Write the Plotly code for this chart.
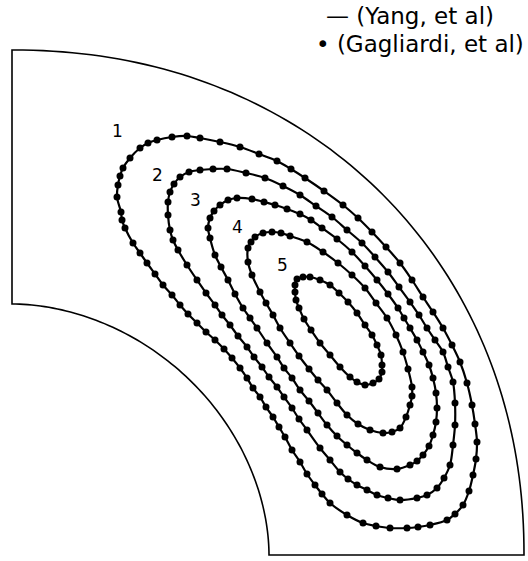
import numpy as np
import plotly.graph_objects as go

# Streamline contours in a quarter annulus, origin at the annulus centre.
# Each contour is a closed loop of (x, y) samples.
c1_x = [185, 176, 168, 160, 151, 143, 135, 128, 121, 113, 110, 109, 105, 106, 108, 111, 118, 128, 136, 145, 160, 175, 188, 208, 228, 247, 265, 279, 293, 312, 331, 346, 360, 374, 388, 400, 411, 421, 431, 440, 448, 455, 460, 463, 465, 464, 461, 457, 451, 443, 435, 418, 406, 395, 378, 364, 351, 335, 318, 310, 303, 295, 288, 280, 273, 267, 261, 254, 248, 241, 235, 228, 220, 212, 203, 194, 185]
c1_y = [232, 241, 250, 260, 270, 281, 292, 302, 312, 327, 335, 343, 358, 370, 379, 387, 397, 407, 412, 415, 418, 419, 417, 413, 408, 401, 394, 386, 377, 364, 350, 337, 323, 308, 292, 275, 258, 243, 227, 210, 193, 172, 150, 131, 113, 96, 80, 64, 50, 41, 35, 30, 28, 27, 27, 29, 32, 40, 52, 61, 70, 81, 93, 105, 118, 128, 138, 148, 158, 167, 177, 187, 197, 206, 215, 223, 232]

c2_x = [218, 210, 203, 194, 185, 175, 166, 161, 158, 156, 156, 158, 162, 168, 177, 188, 201, 215, 234, 253, 271, 288, 304, 320, 335, 350, 363, 376, 387, 398, 407, 415, 423, 431, 436, 441, 443, 443, 441, 438, 432, 425, 415, 405, 388, 376, 365, 355, 345, 336, 328, 318, 308, 295, 287, 280, 272, 265, 257, 250, 242, 235, 226, 218]
c2_y = [230, 240, 250, 262, 275, 290, 305, 315, 325, 340, 353, 363, 371, 378, 383, 385, 386, 386, 382, 377, 369, 360, 349, 338, 325, 312, 298, 283, 268, 253, 240, 227, 215, 203, 188, 173, 152, 130, 110, 90, 77, 67, 60, 57, 55, 57, 60, 65, 70, 76, 83, 95, 107, 125, 136, 147, 158, 168, 178, 188, 198, 208, 219, 230]

c3_x = [245, 238, 231, 223, 216, 209, 203, 198, 196, 198, 202, 208, 216, 225, 240, 252, 263, 275, 288, 299, 310, 325, 340, 353, 365, 376, 386, 392, 398, 405, 411, 417, 421, 424, 425, 424, 421, 417, 411, 405, 398, 385, 368, 355, 345, 335, 325, 315, 306, 297, 288, 280, 272, 265, 255, 245]
c3_y = [227, 237, 247, 261, 275, 288, 300, 317, 327, 337, 344, 350, 355, 357, 356, 353, 350, 346, 341, 335, 327, 316, 303, 289, 275, 261, 247, 237, 227, 215, 203, 190, 177, 162, 147, 133, 120, 109, 100, 94, 90, 86, 88, 95, 102, 110, 119, 130, 142, 154, 165, 177, 187, 198, 212, 227]

c4_x = [268, 261, 254, 248, 240, 236, 236, 239, 243, 251, 260, 269, 278, 295, 311, 326, 340, 353, 364, 375, 384, 391, 396, 400, 400, 398, 394, 388, 380, 371, 358, 346, 335, 325, 315, 306, 297, 287, 278, 268]
c4_y = [227, 240, 252, 263, 280, 293, 307, 313, 318, 322, 323, 322, 319, 313, 303, 292, 280, 267, 252, 237, 220, 203, 186, 168, 159, 150, 138, 127, 123, 122, 125, 131, 140, 152, 165, 175, 186, 199, 212, 227]

c5_x = [285, 291, 298, 308, 318, 327, 336, 345, 353, 360, 365, 369, 370, 370, 367, 361, 353, 345, 338, 328, 318, 308, 299, 292, 287, 284, 283, 283, 285]
c5_y = [276, 278, 278, 275, 270, 262, 253, 242, 230, 220, 210, 200, 190, 183, 176, 172, 170, 173, 178, 188, 200, 212, 225, 236, 247, 255, 263, 270, 276]

contours = [(c1_x, c1_y), (c2_x, c2_y), (c3_x, c3_y), (c4_x, c4_y), (c5_x, c5_y)]

label_text = ["1", "2", "3", "4", "5"]
label_x = [105, 145, 183, 225, 270]
label_y = [424, 380, 355, 328, 290]

# Domain geometry
R_IN_X, R_IN_Y, P_IN = 257, 251, 1.9
R_OUT_X, R_OUT_Y, P_OUT = 512, 505, 2.1


def arc(ax, ay, p, n=90):
    t = np.linspace(0, np.pi / 2, n)
    c, s = np.cos(t), np.sin(t)
    x = ax * np.abs(c) ** (2 / p)
    y = ay * np.abs(s) ** (2 / p)
    return x, y


ox, oy = arc(R_OUT_X, R_OUT_Y, P_OUT)
ix, iy = arc(R_IN_X, R_IN_Y, P_IN)
# outline: outer arc from bottom-right up to top-left, down the left edge,
# inner arc back to the bottom, then along the bottom edge
bx = list(ox) + list(ix[::-1]) + [ox[0]]
by = list(oy) + list(iy[::-1]) + [oy[0]]
path = "M " + " L ".join(f"{a:.2f},{b:.2f}" for a, b in zip(bx, by)) + " Z"

fig = go.Figure()

for cx, cy in contours:
    # computed streamline (solid) and comparison data (dots)
    fig.add_trace(go.Scatter(
        x=cx, y=cy, mode="lines",
        line=dict(color="black", width=2.2, shape="spline", smoothing=1.0),
        hoverinfo="skip", showlegend=False,
    ))
    fig.add_trace(go.Scatter(
        x=cx[:-1], y=cy[:-1], mode="markers",
        marker=dict(color="black", size=7),
        hoverinfo="skip", showlegend=False,
    ))

fig.add_shape(type="path", path=path, line=dict(color="black", width=1.6),
              xref="x", yref="y")

font = dict(family="DejaVu Sans", color="black")
for t, x, y in zip(label_text, label_x, label_y):
    fig.add_annotation(x=x, y=y, text=t, showarrow=False,
                       font=dict(size=17, **font), xanchor="center", yanchor="middle")

fig.add_annotation(x=484, y=539, text="\u2014 (Yang, et al)", showarrow=False,
                   font=dict(size=23, **font), xanchor="right", yanchor="middle")
fig.add_annotation(x=514, y=511, text="\u2022 (Gagliardi, et al)", showarrow=False,
                   font=dict(size=23, **font), xanchor="right", yanchor="middle")

fig.update_xaxes(range=[-12, 516], visible=False, fixedrange=True)
fig.update_yaxes(range=[-6, 555], visible=False, fixedrange=True)
fig.update_layout(
    width=528, height=561,
    margin=dict(l=0, r=0, t=0, b=0),
    paper_bgcolor="white", plot_bgcolor="white",
)

fig.write_html("out.html")
